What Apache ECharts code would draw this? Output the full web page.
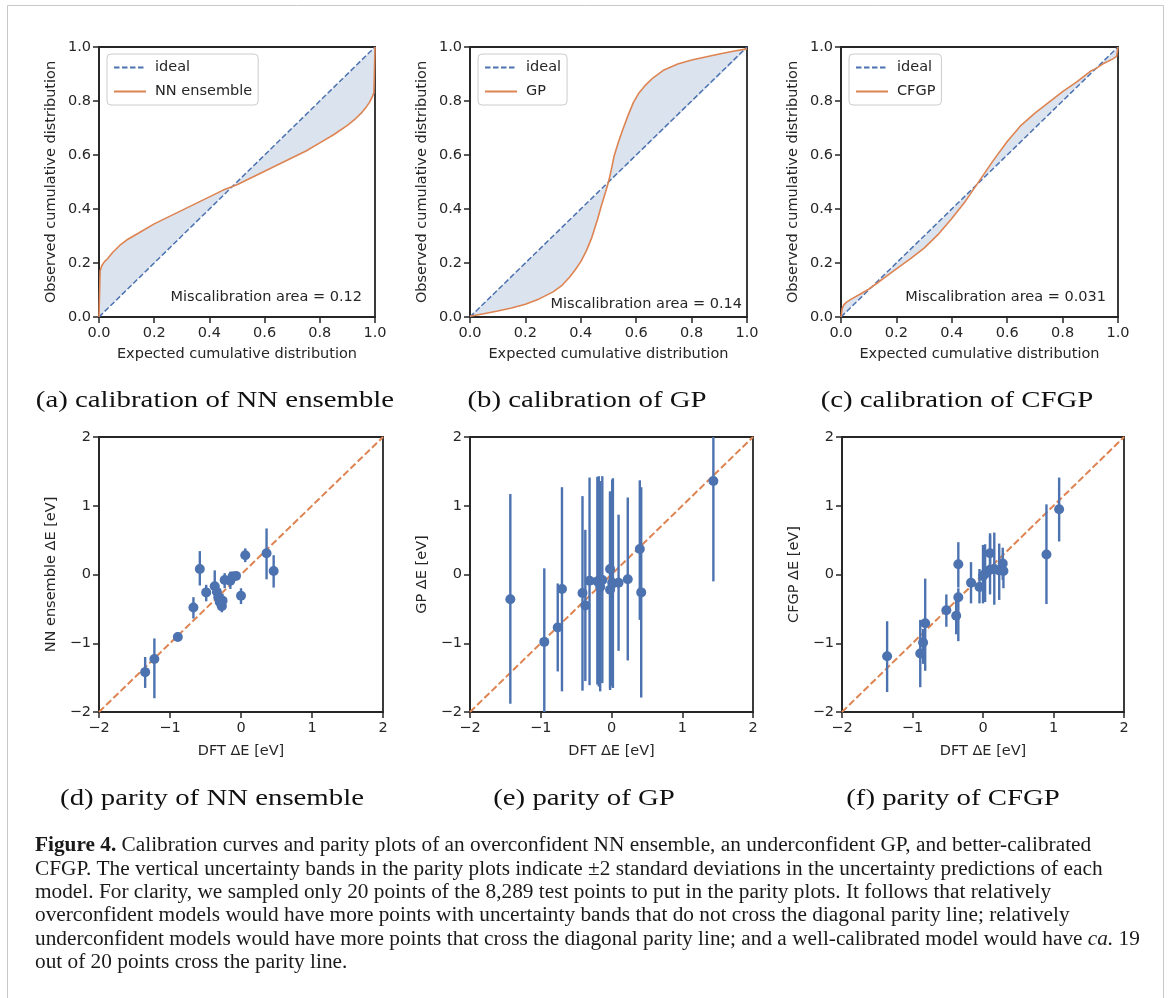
<!DOCTYPE html>
<html>
<head>
<meta charset="utf-8">
<script src="https://cdn.jsdelivr.net/npm/echarts@6/dist/echarts.min.js"></script>
<style>html,body{margin:0;padding:0;background:#fff;}#c{width:1170px;height:998px;}</style>
</head>
<body>
<div id="c"></div>
<script>
// ---------- DATA ----------
const calibTicks = [0, 0.2, 0.4, 0.6, 0.8, 1.0];
const parityTicks = [-2, -1, 0, 1, 2];
const ideal = [[0, 0], [1, 1]];
const nnCurve = [[0,0],[0.004,0.17],[0.01,0.19],[0.02,0.205],[0.03,0.215],[0.05,0.24],[0.075,0.265],[0.1,0.285],[0.15,0.315],[0.2,0.345],[0.25,0.37],[0.3,0.395],[0.35,0.42],[0.4,0.445],[0.45,0.47],[0.5,0.49],[0.55,0.515],[0.6,0.54],[0.65,0.565],[0.7,0.59],[0.75,0.615],[0.8,0.645],[0.85,0.675],[0.9,0.71],[0.93,0.735],[0.95,0.755],[0.97,0.78],[0.98,0.795],[0.99,0.815],[0.996,0.83],[1.0,1.0]];
const gpCurve = [[0,0.003],[0.05,0.012],[0.1,0.022],[0.15,0.033],[0.2,0.047],[0.25,0.067],[0.3,0.093],[0.33,0.115],[0.36,0.148],[0.38,0.175],[0.4,0.205],[0.42,0.245],[0.44,0.295],[0.46,0.36],[0.475,0.415],[0.49,0.465],[0.5,0.5],[0.51,0.545],[0.52,0.595],[0.535,0.645],[0.55,0.69],[0.57,0.745],[0.59,0.795],[0.61,0.83],[0.63,0.855],[0.66,0.885],[0.7,0.915],[0.75,0.937],[0.8,0.952],[0.85,0.963],[0.9,0.974],[0.95,0.984],[1.0,0.993]];
const cfgpCurve = [[0,0],[0.004,0.03],[0.01,0.045],[0.02,0.055],[0.04,0.068],[0.07,0.085],[0.1,0.103],[0.13,0.125],[0.15,0.14],[0.2,0.178],[0.25,0.215],[0.3,0.255],[0.35,0.305],[0.4,0.365],[0.45,0.43],[0.5,0.505],[0.55,0.58],[0.6,0.65],[0.65,0.71],[0.7,0.755],[0.75,0.795],[0.8,0.835],[0.85,0.87],[0.9,0.91],[0.92,0.92],[0.95,0.94],[0.98,0.955],[0.995,0.965],[1.0,1.0]];
const miscalAreas = ['0.12', '0.14', '0.031'];
const modelNames = ['NN ensemble', 'GP', 'CFGP'];
// parity points: [DFT dE, predicted dE, error-bar low, error-bar high]
const nnParity = [[-1.35,-1.42,-1.65,-1.20],[-1.22,-1.23,-1.80,-0.93],[-0.89,-0.91,-0.97,-0.84],[-0.67,-0.48,-0.64,-0.33],[-0.58,0.08,-0.16,0.34],[-0.49,-0.26,-0.39,-0.15],[-0.37,-0.17,-0.27,0.06],[-0.34,-0.25,-0.40,-0.12],[-0.32,-0.33,-0.47,-0.20],[-0.30,-0.40,-0.52,-0.28],[-0.27,-0.46,-0.55,-0.36],[-0.26,-0.38,-0.48,-0.28],[-0.23,-0.08,-0.20,0.02],[-0.15,-0.09,-0.21,0.04],[-0.12,-0.03,-0.10,0.04],[-0.07,-0.02,-0.06,0.02],[0.00,-0.31,-0.43,-0.20],[0.06,0.28,0.18,0.38],[0.36,0.31,-0.07,0.67],[0.46,0.05,-0.19,0.28]];
const gpParity = [[-1.43,-0.36,-1.88,1.17],[-0.95,-0.98,-2.00,0.09],[-0.76,-0.77,-1.41,-0.13],[-0.70,-0.21,-1.70,1.27],[-0.41,-0.27,-1.69,1.14],[-0.37,-0.45,-1.55,0.65],[-0.31,-0.09,-1.61,1.41],[-0.20,-0.10,-1.60,1.42],[-0.18,-0.09,-1.63,1.43],[-0.16,-0.18,-1.70,1.36],[-0.13,-0.08,-1.58,1.43],[-0.02,0.08,-1.68,1.21],[-0.02,-0.22,-1.65,1.20],[0.01,-0.12,-1.62,1.38],[0.02,-0.13,-1.65,1.40],[0.10,-0.12,-1.11,0.87],[0.23,-0.07,-1.25,1.12],[0.40,0.37,-0.66,1.37],[0.42,-0.26,-1.79,1.27],[1.44,1.36,-0.10,2.00]];
const cfgpParity = [[-1.36,-1.19,-1.71,-0.68],[-0.89,-1.15,-1.64,-0.66],[-0.85,-0.99,-1.30,-0.79],[-0.82,-0.71,-1.40,-0.06],[-0.52,-0.52,-0.76,-0.29],[-0.38,-0.60,-0.87,-0.37],[-0.35,-0.33,-0.97,-0.20],[-0.35,0.15,-0.19,0.47],[-0.17,-0.12,-0.42,0.18],[-0.05,-0.18,-0.42,0.08],[0.00,-0.02,-0.42,0.43],[0.03,0.01,-0.40,0.44],[0.10,0.07,-0.29,0.57],[0.10,0.31,0.00,0.60],[0.16,0.08,-0.44,0.61],[0.23,0.06,-0.37,0.45],[0.28,0.16,-0.08,0.39],[0.29,0.05,-0.20,0.21],[0.90,0.29,-0.43,1.02],[1.08,0.95,0.48,1.41]];
const parityDiag = [[-2, -2], [2, 2]];
const subCaptions = ['(a) calibration of NN ensemble', '(b) calibration of GP', '(c) calibration of CFGP',
  '(d) parity of NN ensemble', '(e) parity of GP', '(f) parity of CFGP'];
const captionLines = [
  '{b|Figure 4.} Calibration curves and parity plots of an overconfident NN ensemble, an underconfident GP, and better-calibrated',
  'CFGP. The vertical uncertainty bands in the parity plots indicate \u00b12 standard deviations in the uncertainty predictions of each',
  'model. For clarity, we sampled only 20 points of the 8,289 test points to put in the parity plots. It follows that relatively',
  'overconfident models would have more points with uncertainty bands that do not cross the diagonal parity line; relatively',
  'underconfident models would have more points that cross the diagonal parity line; and a well-calibrated model would have {i|ca.} 19',
  'out of 20 points cross the parity line.'
];

// ---------- STYLE / LAYOUT ----------
const FONT = 'DejaVu Sans';
const TXT = '#262626';
const BLUE = '#4c72b0';
const ORANGE = '#dd8452';
const FILL = '#dbe3ef';
const FS = 14.5;

const grids = [
  {left: 99, top: 47, width: 276, height: 270},
  {left: 470, top: 47, width: 277, height: 270},
  {left: 841, top: 47, width: 277, height: 270},
  {left: 99, top: 437, width: 284, height: 275},
  {left: 470, top: 437, width: 283, height: 275},
  {left: 842, top: 437, width: 282, height: 275}
].map(g => Object.assign({show: true, borderColor: TXT, borderWidth: 1.8, backgroundColor: 'transparent'}, g));

const minus = v => (v < 0 ? '\u2212' + Math.abs(v) : String(v));

function axis(i, isX, calib) {
  const ticks = calib ? calibTicks : parityTicks;
  let name;
  if (isX) name = calib ? 'Expected cumulative distribution' : 'DFT \u0394E [eV]';
  else name = calib ? 'Observed cumulative distribution' : modelNames[i - 3] + ' \u0394E [eV]';
  return {
    gridIndex: i, type: 'value',
    min: ticks[0], max: ticks[ticks.length - 1], interval: ticks[1] - ticks[0],
    name: name, nameLocation: 'middle',
    nameGap: isX ? (calib ? 30 : 32) : 40,
    nameTextStyle: {fontFamily: FONT, fontSize: FS, color: TXT},
    axisLine: {show: true, onZero: false, lineStyle: {color: TXT, width: 1.8}},
    axisTick: {show: true, inside: false, length: 6, lineStyle: {color: TXT, width: 1.5}},
    axisLabel: {show: true, margin: isX ? 9 : 8, fontFamily: FONT, fontSize: FS, color: TXT,
      showMinLabel: true, showMaxLabel: true,
      formatter: calib ? (v => v.toFixed(1)) : minus},
    splitLine: {show: false}
  };
}

const xAxes = [], yAxes = [];
for (let i = 0; i < 6; i++) { xAxes.push(axis(i, true, i < 3)); yAxes.push(axis(i, false, i < 3)); }

const curves = [nnCurve, gpCurve, cfgpCurve];
const parities = [nnParity, gpParity, cfgpParity];
const series = [];
const legends = [];
const legendLeft = [107, 478, 849];

for (let k = 0; k < 3; k++) {
  const curve = curves[k];
  series.push({
    type: 'custom', xAxisIndex: k, yAxisIndex: k, silent: true, z: 1,
    data: [[0.5, 0.5]],
    renderItem: (params, api) => ({
      type: 'polygon',
      shape: {points: curve.map(p => api.coord(p))},
      style: {fill: FILL, stroke: null}
    })
  });
  series.push({
    type: 'line', name: 'ideal', xAxisIndex: k, yAxisIndex: k, data: ideal,
    symbol: 'none', z: 3, silent: true,
    lineStyle: {color: BLUE, width: 1.5, type: [5.5, 2.5]}, itemStyle: {color: BLUE}
  });
  series.push({
    type: 'line', name: modelNames[k], xAxisIndex: k, yAxisIndex: k, data: curve,
    symbol: 'none', z: 4, silent: true,
    lineStyle: {color: ORANGE, width: 1.6}, itemStyle: {color: ORANGE}
  });
  legends.push({
    data: ['ideal', modelNames[k]], orient: 'vertical', left: legendLeft[k], top: 54,
    itemWidth: 32, itemHeight: 14, itemGap: 9, padding: [6, 6, 6, 6],
    borderColor: '#cccccc', borderWidth: 1, borderRadius: 4,
    backgroundColor: 'rgba(255,255,255,0.8)', selectedMode: false,
    itemStyle: {opacity: 0, borderWidth: 0},
    textStyle: {fontFamily: FONT, fontSize: FS, color: TXT, padding: [0, 0, 0, 4]}
  });

  const gi = k + 3;
  const pd = parities[k];
  series.push({
    type: 'line', xAxisIndex: gi, yAxisIndex: gi, data: parityDiag, symbol: 'none', z: 2, silent: true,
    lineStyle: {color: ORANGE, width: 2, type: [7, 3]}
  });
  series.push({
    type: 'custom', xAxisIndex: gi, yAxisIndex: gi, silent: true, z: 3,
    data: pd.map(p => [p[0], p[2], p[3]]),
    encode: {x: 0, y: [1, 2]},
    renderItem: (params, api) => {
      const a = api.coord([api.value(0), api.value(1)]);
      const b = api.coord([api.value(0), api.value(2)]);
      return {type: 'line', shape: {x1: a[0], y1: a[1], x2: b[0], y2: b[1]},
        style: {stroke: BLUE, lineWidth: 2.4}};
    }
  });
  series.push({
    type: 'scatter', xAxisIndex: gi, yAxisIndex: gi, data: pd.map(p => [p[0], p[1]]),
    symbolSize: 10, z: 4, silent: true, itemStyle: {color: BLUE, opacity: 1}
  });
}

// ---------- GRAPHIC TEXT ----------
const graphic = [];
graphic.push({type: 'polyline', silent: true,
  shape: {points: [[7.5, 1000], [7.5, 5.5], [1163.5, 5.5], [1163.5, 1000]]},
  style: {stroke: '#c8c8c8', lineWidth: 1, fill: null}});

const miscalPos = [[362, 297], [742, 304], [1106, 297]];
for (let k = 0; k < 3; k++) {
  graphic.push({type: 'text', x: miscalPos[k][0], y: miscalPos[k][1], silent: true, z: 10,
    style: {text: 'Miscalibration area = ' + miscalAreas[k], fontFamily: FONT, fontSize: FS,
      fill: TXT, align: 'right', verticalAlign: 'middle'}});
}
const subPos = [[215, 401], [587, 401], [957, 401], [212, 799], [584, 799], [953, 799]];
for (let i = 0; i < 6; i++) {
  graphic.push({type: 'text', x: subPos[i][0], y: subPos[i][1], scaleX: 1.2, silent: true,
    style: {text: subCaptions[i], fontFamily: 'Liberation Serif', fontSize: 24, fill: '#111',
      align: 'center', verticalAlign: 'middle'}});
}
const CAPF = 'Liberation Serif';
const CAPS = 20;
for (let i = 0; i < captionLines.length; i++) {
  graphic.push({type: 'text', x: 35, y: 846 + 23.4 * i, scaleX: 1.065, silent: true,
    style: {text: captionLines[i], fontFamily: CAPF, fontSize: CAPS, fill: '#1a1a1a',
      align: 'left', verticalAlign: 'middle',
      rich: {
        b: {fontFamily: CAPF, fontSize: CAPS, fontWeight: 'bold', fill: '#1a1a1a'},
        i: {fontFamily: CAPF, fontSize: CAPS, fontStyle: 'italic', fill: '#1a1a1a'}
      }}});
}

const chart = echarts.init(document.getElementById('c'), null, {renderer: 'canvas'});
chart.setOption({
  animation: false,
  backgroundColor: '#ffffff',
  grid: grids, xAxis: xAxes, yAxis: yAxes,
  legend: legends, series: series, graphic: graphic
});
</script>
</body>
</html>
